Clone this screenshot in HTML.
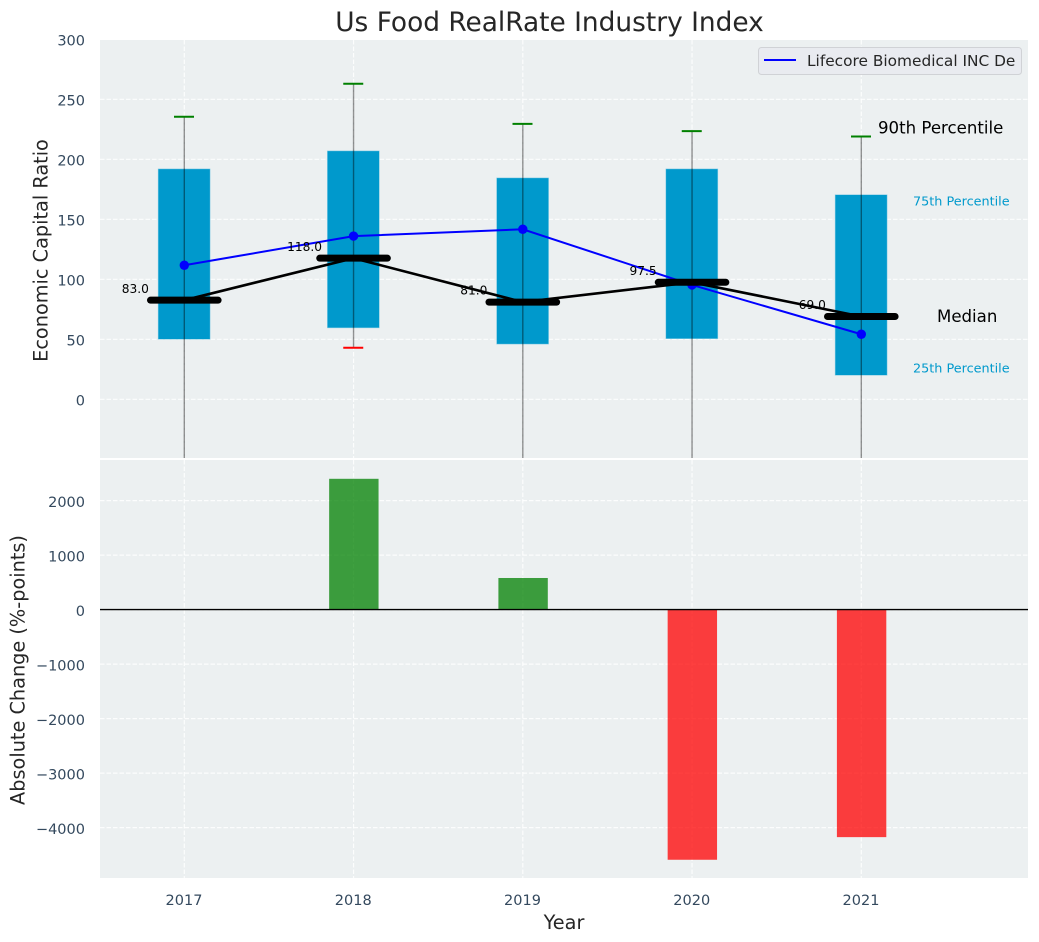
<!DOCTYPE html>
<html>
<head>
<meta charset="utf-8">
<title>Us Food RealRate Industry Index</title>
<style>
html,body{margin:0;padding:0;background:#fff;width:1039px;height:942px;overflow:hidden}
svg{display:block;font-family:"DejaVu Sans","Liberation Sans",sans-serif}
</style>
</head>
<body>
<svg id="chart" xmlns="http://www.w3.org/2000/svg" width="1039" height="942" viewBox="0 0 1039 942"></svg>
<script>
const years = [2017, 2018, 2019, 2020, 2021];
const p90 = [235.5, 263, 229.5, 223.5, 219];
const p75 = [192, 207, 184.5, 192, 170.5];
const medians = [82.6, 117.6, 81, 97.5, 69];
const p25 = [50, 59.5, 46, 50.5, 20];
const p10 = [-120, 43, -120, -120, -120];
const companySeries = [111.7, 136, 141.7, 95.3, 54.2];
const absoluteChange = [0, 2400, 580, -4590, -4175];
const medianLabels = ['83.0', '118.0', '81.0', '97.5', '69.0'];
const topTicks = [0, 50, 100, 150, 200, 250, 300];
const bottomTicks = [-4000, -3000, -2000, -1000, 0, 1000, 2000];

const svg = document.getElementById('chart');
const NS = 'http://www.w3.org/2000/svg';
const topPlot = {l: 100, r: 1028, t: 40, b: 458};
const botPlot = {l: 100, r: 1028, t: 460, b: 878};
const x = v => 184.3 + (v - 2017) * 169.25;
const yTop = v => 399.3 - v * 1.2;
const yBot = v => 609.6 - v * 0.0545;
const minus = v => String(v).replace('-', '\u2212');

function el(tag, attrs, parent) {
  const n = document.createElementNS(NS, tag);
  for (const k in attrs) n.setAttribute(k, attrs[k]);
  (parent || svg).appendChild(n);
  return n;
}
function txt(content, attrs, parent) {
  const n = el('text', attrs, parent);
  n.textContent = content;
  return n;
}

const defs = el('defs', {});
const clipNode = el('clipPath', {id: 'clip-top'}, defs);
el('rect', {x: topPlot.l, y: topPlot.t, width: topPlot.r - topPlot.l, height: topPlot.b - topPlot.t}, clipNode);

const topBg = el('rect', {x: topPlot.l, y: topPlot.t, width: topPlot.r - topPlot.l, height: topPlot.b - topPlot.t, fill: '#ecf0f1'});


const botBg = el('rect', {x: botPlot.l, y: botPlot.t, width: botPlot.r - botPlot.l, height: botPlot.b - botPlot.t, fill: '#ecf0f1'});



const gridStyle = {stroke: '#ffffff', 'stroke-width': 1.2, 'stroke-dasharray': '4.5 2', 'stroke-opacity': 0.85};
topTicks.forEach(t => {
  const g = el('line', Object.assign({x1: topPlot.l, x2: topPlot.r, y1: yTop(t), y2: yTop(t)}, gridStyle));
  
  
  const lab = txt(minus(t), {x: 85, y: yTop(t) + 6.2, 'text-anchor': 'end', 'font-size': 14.5, fill: '#34495e'});
  
  
});
bottomTicks.forEach(t => {
  const g = el('line', Object.assign({x1: botPlot.l, x2: botPlot.r, y1: yBot(t), y2: yBot(t)}, gridStyle));
  
  
  const lab = txt(minus(t), {x: 85, y: yBot(t) + 6.2, 'text-anchor': 'end', 'font-size': 14.5, fill: '#34495e'});
  
  
});
years.forEach(yr => {
  const g1 = el('line', Object.assign({x1: x(yr), x2: x(yr), y1: topPlot.t, y2: topPlot.b}, gridStyle));
  
  
  const g2 = el('line', Object.assign({x1: x(yr), x2: x(yr), y1: botPlot.t, y2: botPlot.b}, gridStyle));
  
  
  const lab = txt(String(yr), {x: x(yr) - 0.3, y: 905, 'text-anchor': 'middle', 'font-size': 14.5, fill: '#34495e'});
  
  
});

const topGroup = el('g', {'clip-path': 'url(#clip-top)'});



const boxHalf = 26;
years.forEach((yr, i) => {
  const b = el('rect', {x: x(yr) - boxHalf - 0.2, y: yTop(p75[i]), width: boxHalf * 2, height: yTop(p25[i]) - yTop(p75[i]), fill: '#0099cc', stroke: '#8fd0e6', 'stroke-width': 0.5}, topGroup);
  
  
});
years.forEach((yr, i) => {
  const w = el('line', {x1: x(yr), x2: x(yr), y1: yTop(p90[i]), y2: yTop(p10[i]), stroke: '#000', 'stroke-opacity': 0.42, 'stroke-width': 1.4}, topGroup);
  
  
  const capHi = el('line', {x1: x(yr) - 10.3, x2: x(yr) + 9.7, y1: yTop(p90[i]), y2: yTop(p90[i]), stroke: '#008000', 'stroke-width': 2}, topGroup);
  
  
  const capLo = el('line', {x1: x(yr) - 10.3, x2: x(yr) + 9.7, y1: yTop(p10[i]), y2: yTop(p10[i]), stroke: '#ff0000', 'stroke-width': 2}, topGroup);
  
  
});

const companyLine = el('polyline', {points: years.map((yr, i) => x(yr) + ',' + yTop(companySeries[i])).join(' '), fill: 'none', stroke: '#0000ff', 'stroke-width': 2}, topGroup);


years.forEach((yr, i) => {
  const d = el('circle', {cx: x(yr), cy: yTop(companySeries[i]), r: 4.7, fill: '#0000ff'}, topGroup);
  
  
});

const medianLine = el('polyline', {points: years.map((yr, i) => x(yr) + ',' + yTop(medians[i])).join(' '), fill: 'none', stroke: '#000', 'stroke-width': 2.6}, topGroup);


years.forEach((yr, i) => {
  const m = el('line', {x1: x(yr) - 33.8, x2: x(yr) + 33.8, y1: yTop(medians[i]), y2: yTop(medians[i]), stroke: '#000', 'stroke-width': 7, 'stroke-linecap': 'round'}, topGroup);
  
  
  const t = txt(medianLabels[i], {x: x(yr) - 49, y: yTop(medians[i]) - 7.4, 'text-anchor': 'middle', 'font-size': 12.2, fill: '#000'}, topGroup);
  
  
});

years.forEach((yr, i) => {
  const v = absoluteChange[i];
  if (v === 0) return;
  const y0 = yBot(Math.max(v, 0));
  const y1 = yBot(Math.min(v, 0));
  const b = el('rect', {x: x(yr) - 24.4, y: y0, width: 49.4, height: y1 - y0, fill: v > 0 ? '#008000' : '#ff0000', 'fill-opacity': 0.75});
  
  
});
const zero = el('line', {x1: botPlot.l, x2: botPlot.r, y1: yBot(0), y2: yBot(0), stroke: '#000', 'stroke-width': 1.4});


</script>

<script>
(function () {
  const root = document.getElementById('chart');
  const ns = 'http://www.w3.org/2000/svg';

  const title = document.createElementNS(ns, 'text');
  
  
  title.setAttribute('x', '549.5');
  title.setAttribute('y', '31');
  title.setAttribute('text-anchor', 'middle');
  title.setAttribute('font-size', '26.4');
  title.setAttribute('fill', '#262626');
  title.textContent = 'Us Food RealRate Industry Index';
  root.appendChild(title);

  const yTitleTop = document.createElementNS(ns, 'text');
  
  
  yTitleTop.setAttribute('transform', 'translate(47.5 250.5) rotate(-90)');
  yTitleTop.setAttribute('text-anchor', 'middle');
  yTitleTop.setAttribute('font-size', '19.3');
  yTitleTop.setAttribute('fill', '#262626');
  yTitleTop.textContent = 'Economic Capital Ratio';
  root.appendChild(yTitleTop);

  const yTitleBot = document.createElementNS(ns, 'text');
  
  
  yTitleBot.setAttribute('transform', 'translate(24.5 670) rotate(-90)');
  yTitleBot.setAttribute('text-anchor', 'middle');
  yTitleBot.setAttribute('font-size', '19.3');
  yTitleBot.setAttribute('fill', '#262626');
  yTitleBot.textContent = 'Absolute Change (%-points)';
  root.appendChild(yTitleBot);

  const xTitle = document.createElementNS(ns, 'text');
  
  
  xTitle.setAttribute('x', '564');
  xTitle.setAttribute('y', '929');
  xTitle.setAttribute('text-anchor', 'middle');
  xTitle.setAttribute('font-size', '19.3');
  xTitle.setAttribute('fill', '#262626');
  xTitle.textContent = 'Year';
  root.appendChild(xTitle);

  const p90Label = document.createElementNS(ns, 'text');
  
  
  p90Label.setAttribute('x', '878');
  p90Label.setAttribute('y', '133.5');
  p90Label.setAttribute('font-size', '16.6');
  p90Label.setAttribute('fill', '#000');
  p90Label.textContent = '90th Percentile';
  root.appendChild(p90Label);

  const p75Label = document.createElementNS(ns, 'text');
  
  
  p75Label.setAttribute('x', '913');
  p75Label.setAttribute('y', '205.5');
  p75Label.setAttribute('font-size', '12.8');
  p75Label.setAttribute('fill', '#0099cc');
  p75Label.textContent = '75th Percentile';
  root.appendChild(p75Label);

  const medLabel = document.createElementNS(ns, 'text');
  
  
  medLabel.setAttribute('x', '937');
  medLabel.setAttribute('y', '322');
  medLabel.setAttribute('font-size', '16.6');
  medLabel.setAttribute('fill', '#000');
  medLabel.textContent = 'Median';
  root.appendChild(medLabel);

  const p25Label = document.createElementNS(ns, 'text');
  
  
  p25Label.setAttribute('x', '913');
  p25Label.setAttribute('y', '372.5');
  p25Label.setAttribute('font-size', '12.8');
  p25Label.setAttribute('fill', '#0099cc');
  p25Label.textContent = '25th Percentile';
  root.appendChild(p25Label);

  const legend = document.createElementNS(ns, 'g');
  
  
  root.appendChild(legend);

  const legendBox = document.createElementNS(ns, 'rect');
  
  
  legendBox.setAttribute('x', '758.5');
  legendBox.setAttribute('y', '47.5');
  legendBox.setAttribute('width', '263');
  legendBox.setAttribute('height', '27');
  legendBox.setAttribute('rx', '3');
  legendBox.setAttribute('fill', '#e9ebf0');
  legendBox.setAttribute('stroke', '#d0d2d6');
  legendBox.setAttribute('stroke-width', '1');
  legend.appendChild(legendBox);

  const legendSwatch = document.createElementNS(ns, 'line');
  
  
  legendSwatch.setAttribute('x1', '764');
  legendSwatch.setAttribute('x2', '796');
  legendSwatch.setAttribute('y1', '60');
  legendSwatch.setAttribute('y2', '60');
  legendSwatch.setAttribute('stroke', '#0000ff');
  legendSwatch.setAttribute('stroke-width', '2');
  legend.appendChild(legendSwatch);

  const legendText = document.createElementNS(ns, 'text');
  
  
  legendText.setAttribute('x', '807');
  legendText.setAttribute('y', '66');
  legendText.setAttribute('font-size', '15.36');
  legendText.setAttribute('fill', '#262626');
  legendText.textContent = 'Lifecore Biomedical INC De';
  legend.appendChild(legendText);
})();
</script>
</body>
</html>
